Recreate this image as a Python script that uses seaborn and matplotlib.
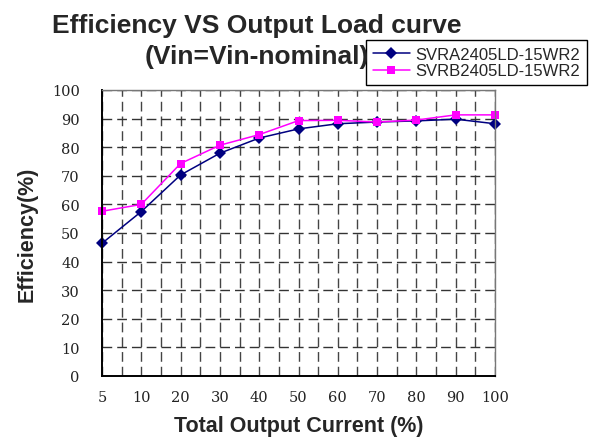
import numpy as np
import pandas as pd
import matplotlib
matplotlib.use("Agg")
import matplotlib.pyplot as plt
from matplotlib.ticker import MultipleLocator
import seaborn as sns

# values
loads = ["5", "10", "20", "30", "40", "50", "60", "70", "80", "90", "100"]
eff_a = [46.4, 57.5, 70.3, 77.9, 83.2, 86.4, 88.2, 88.8, 89.2, 89.8, 88.2]
eff_b = [57.6, 60.0, 74.3, 80.7, 84.4, 89.3, 89.4, 88.8, 89.5, 91.3, 91.3]
models = ["SVRA2405LD-15WR2", "SVRB2405LD-15WR2"]
yticks = list(range(0, 101, 10))

df = pd.DataFrame({
	"load": loads * 2,
	"eff": eff_a + eff_b,
	"model": [models[0]] * len(loads) + [models[1]] * len(loads),
})

sns.set_style("white")
sans = ["Liberation Sans", "DejaVu Sans"]
serif = ["DejaVu Serif"]

fig = plt.figure(figsize=(6.13, 4.39), dpi=100)
ax = fig.add_axes([102/613, 62/439, 393/613, 286/439])

ax.set_axisbelow(True)
ax.yaxis.grid(True, color="#333333", linestyle=(0, (7, 3.6)), linewidth=1.0)
ax.xaxis.grid(True, which="both", color="#444444", linestyle=(0, (7, 3.6)), linewidth=1.0)

sns.lineplot(data=df, x="load", y="eff", hue="model", style="model",
	palette={models[0]: "#000080", models[1]: "#ff00ff"},
	markers={models[0]: "D", models[1]: "s"}, dashes=False, sort=False,
	markersize=6, markeredgewidth=0, linewidth=1.1, ax=ax, clip_on=False)

ax.set_xlim(0, len(loads) - 1)
ax.set_ylim(0, 100)
ax.set_yticks(yticks)
ax.xaxis.set_minor_locator(MultipleLocator(0.5))
ax.tick_params(axis="both", which="both", length=0)
ax.tick_params(axis="y", pad=16)
ax.tick_params(axis="x", pad=10)
for lab in ax.get_xticklabels() + ax.get_yticklabels():
	lab.set_family(serif)
	lab.set_fontsize(10.5)
	lab.set_color("#222222")

for side in ["left", "bottom"]:
	ax.spines[side].set_color("black")
	ax.spines[side].set_linewidth(1.4)
for side in ["top", "right"]:
	ax.spines[side].set_color("#777777")
	ax.spines[side].set_linewidth(1.0)

ax.set_xlabel("Total Output Current (%)", fontsize=15.5, fontweight="bold", family=sans, labelpad=8)
ax.set_ylabel("Efficiency(%)", fontsize=15.5, fontweight="bold", family=sans)
ax.yaxis.set_label_coords(-0.163, 0.5)

fig.text(257/613, 1 - 33/439, "Efficiency VS Output Load curve", ha="center", va="baseline",
	fontsize=19, fontweight="bold", family=sans)
fig.text(257/613, 1 - 64/439, "(Vin=Vin-nominal)", ha="center", va="baseline",
	fontsize=19, fontweight="bold", family=sans)

sns.move_legend(ax, "upper left", bbox_to_anchor=(366/613, 1 - 41/439), bbox_transform=fig.transFigure,
	title=None, frameon=True, fancybox=False, framealpha=1, edgecolor="black",
	borderaxespad=0, borderpad=0.42, handlelength=2.2, handletextpad=0.35, labelspacing=0.08,
	prop={"family": sans, "size": 12})
leg = ax.get_legend()
leg.get_frame().set_linewidth(1.0)
leg.set_zorder(10)

fig.savefig("out.png", dpi=100)
